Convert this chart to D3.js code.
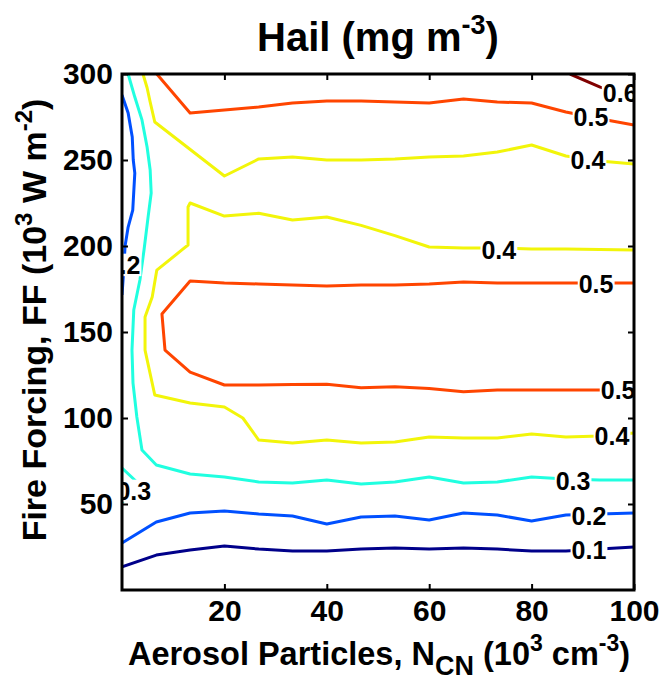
<!DOCTYPE html>
<html>
<head>
<meta charset="utf-8">
<script src="https://cdn.jsdelivr.net/npm/d3@7"></script>
<style>
  body { margin: 0; background: #fff; }
  svg { display: block; }
  text { font-family: "Liberation Sans", Arial, Helvetica, sans-serif; font-weight: bold; fill: #000; }
</style>
</head>
<body>
<svg id="chart" width="663" height="684"></svg>
<script>
// ---------------- data ----------------
const levels = [0.1, 0.2, 0.3, 0.4, 0.5, 0.6];
const levelColors = ["#00008a", "#0050ff", "#20ffe0", "#f2f50a", "#ff4500", "#800000"];
const xTicks = [20, 40, 60, 80, 100];
const yTicks = [50, 100, 150, 200, 250, 300];
const xDomain = [0, 100];
const yDomain = [0, 300];

// contour polylines, [N_CN, FF]
const c01 = [[0,13.4],[6.7,20.3],[13.3,23.3],[20,25.6],[26.7,23.8],[33.3,22.7],[40,22.7],[46.7,23.8],[53.3,24.4],[60,23.8],[66.7,24.4],[73.3,23.8],[80,22.7],[86.7,22.7],[93.3,23.8],[100,25]];
const c02bottom = [[0,27.3],[6.7,39.5],[13.3,44.8],[20,45.9],[26.7,44.2],[33.3,43],[40,38.4],[46.7,42.4],[53.3,43],[60,40.7],[66.7,44.8],[73.3,43.6],[80,40.1],[86.7,43.6],[93.3,44.2],[100,44.8]];
const c02left = [[0,287.8],[1.2,277.3],[2.0,263.4],[2.2,250],[2.5,242.4],[2.1,220.9],[1.2,211],[0.6,200],[0.4,189],[0.2,180],[0,171.5]];
const c03main = [[1.2,300],[2.5,286.6],[3.9,273.3],[4.9,257.6],[5.5,244.2],[5.7,230.8],[5.1,216.9],[4.3,197.7],[3.5,180.2],[2.3,162.8],[1.95,139.5],[2.15,120.3],[2.9,100.6],[3.9,81.4],[6.7,72.7],[13.3,67.4],[20,65.7],[26.7,62.8],[33.3,62.2],[40,64],[46.7,61.6],[53.3,62.8],[60,65.7],[66.7,62.2],[73.3,62.8],[80,65.7],[86.7,64.5],[93.3,64],[100,64]];
const c03corner = [[0,70.9],[2.9,62.8],[3.6,57.5],[0,51.2]];
const c04upper = [[4.1,300],[4.9,292],[5.5,283.7],[6.4,272.1],[20,240.7],[26.7,250.6],[33.3,251.7],[40,250],[46.7,250],[53.3,250.6],[60,251.7],[66.7,252.3],[73.3,254.6],[80,258.7],[86.7,252.3],[93.3,249.4],[100,247.7]];
const c04inner = [[100,197.7],[93.3,198],[86.7,198.3],[80,198.3],[73.3,198.8],[66.7,198.8],[60,199.4],[53.3,206],[46.7,212],[40,216.9],[33.3,215.1],[26.7,219],[20,217.4],[13.3,225],[12.9,222.7],[12.9,200.6],[11.7,197.7],[6.8,186],[5.9,170.3],[4.5,158.7],[4.5,139.5],[6.4,113.4],[13.3,108.7],[20,106.4],[23.6,100],[26.7,87.2],[33.3,85.5],[40,87.2],[46.7,85.5],[53.3,86],[60,89],[66.7,88.4],[73.3,88.4],[80,90.7],[86.7,89],[93.3,89.5],[100,91.3]];
const c05upper = [[6.8,300],[13.3,277.3],[20,279.1],[26.7,280.8],[33.3,283.1],[40,284.3],[46.7,284.3],[53.3,283.7],[60,283.1],[66.7,285.5],[73.3,283.7],[80,283.1],[86.7,277.9],[93.3,274],[100,270.3]];
const c05inner = [[100,178.5],[93.3,178.5],[86.7,178.5],[80,178.5],[73.3,178.5],[66.7,179.1],[60,177.9],[53.3,177.3],[46.7,177.3],[40,176.7],[33.3,177.3],[26.7,177.9],[20,178.5],[13.3,179.6],[7.8,160.5],[8.4,139.5],[13.3,126.7],[20,119.2],[26.7,119.2],[33.3,119.5],[40,119.6],[46.7,117.6],[53.3,118.2],[60,117.2],[66.7,115.3],[73.3,116.3],[80,116.3],[86.7,116.3],[93.3,116.3],[100,116.3]];
const c06 = [[87.5,300],[93.4,292.4],[100,286.6]];

const contourLines = [
  {level: 0.1, pts: c01},
  {level: 0.2, pts: c02bottom},
  {level: 0.2, pts: c02left},
  {level: 0.3, pts: c03main},
  {level: 0.3, pts: c03corner},
  {level: 0.4, pts: c04upper},
  {level: 0.4, pts: c04inner},
  {level: 0.5, pts: c05upper},
  {level: 0.5, pts: c05inner},
  {level: 0.6, pts: c06}
];

// contour labels: [level, N_CN, FF]
const labelLevels = [0.6, 0.5, 0.4, 0.4, 0.5, 0.5, 0.4, 0.3, 0.2, 0.1, 0.2, 0.3];
const labelX      = [97.3, 91.6, 91, 73.6, 92.6, 96.9, 95.7, 88.1, 91.2, 91.2, 0.2, 2.3];
const labelY      = [289, 275, 250, 197.7, 178, 116.3, 89.5, 63.4, 43, 23.3, 189, 57.6];

// ---------------- drawing ----------------
const svg = d3.select("#chart");
const box = {l: 122, t: 74, r: 634, b: 590};
const x = d3.scaleLinear().domain(xDomain).range([box.l, box.r]);
const y = d3.scaleLinear().domain(yDomain).range([box.b, box.t]);
const color = d3.scaleOrdinal().domain(levels).range(levelColors);

svg.append("defs").append("clipPath").attr("id", "plotclip")
  .append("rect").attr("x", box.l).attr("y", box.t)
  .attr("width", box.r - box.l).attr("height", box.b - box.t);

const plot = svg.append("g").attr("clip-path", "url(#plotclip)");
const line = d3.line().x(d => x(d[0])).y(d => y(d[1]));

plot.selectAll("path.contour").data(contourLines).join("path")
  .attr("class", "contour")
  .attr("d", d => line(d.pts))
  .attr("fill", "none")
  .attr("stroke", d => color(d.level))
  .attr("stroke-width", 3)
  .attr("stroke-linejoin", "round");

const labFont = 25;
labelLevels.forEach((lv, i) => {
  const g = plot.append("g");
  const cx = x(labelX[i]), cy = y(labelY[i]);
  const t = g.append("text")
    .attr("x", cx).attr("y", cy + 0.358 * labFont)
    .attr("text-anchor", "middle")
    .style("font-size", labFont + "px")
    .text(lv.toFixed(1));
  const bb = t.node().getBBox();
  g.insert("rect", "text")
    .attr("x", bb.x - 1).attr("y", cy - 0.45 * labFont)
    .attr("width", bb.width + 2).attr("height", 0.9 * labFont)
    .attr("fill", "#fff");
});

// axes
const tickFont = "30px";
const gx = svg.append("g").attr("transform", `translate(0,${box.b})`)
  .call(d3.axisBottom(x).tickValues(xTicks).tickSize(-6).tickPadding(10).tickFormat(d3.format("d")));
const gxt = svg.append("g").attr("transform", `translate(0,${box.t})`)
  .call(d3.axisTop(x).tickValues(xTicks).tickSize(-6).tickFormat(""));
const gy = svg.append("g").attr("transform", `translate(${box.l},0)`)
  .call(d3.axisLeft(y).tickValues(yTicks).tickSize(-6).tickPadding(9).tickFormat(d3.format("d")));
const gyr = svg.append("g").attr("transform", `translate(${box.r},0)`)
  .call(d3.axisRight(y).tickValues(yTicks).tickSize(-6).tickFormat(""));
[gx, gxt, gy, gyr].forEach(g => {
  g.select(".domain").remove();
  g.selectAll(".tick line").attr("stroke", "#000").attr("stroke-width", 2);
  g.selectAll(".tick text").style("font-size", tickFont).style("font-family", null).attr("fill", "#000");
});

svg.append("rect")
  .attr("x", box.l).attr("y", box.t)
  .attr("width", box.r - box.l).attr("height", box.b - box.t)
  .attr("fill", "none").attr("stroke", "#000").attr("stroke-width", 3);

// title
const title = svg.append("text").attr("x", 378).attr("y", 51)
  .attr("text-anchor", "middle").style("font-size", "40px");
title.append("tspan").text("Hail (mg m");
title.append("tspan").attr("dy", -17).style("font-size", "27px").text("-3");
title.append("tspan").attr("dy", 17).text(")");

// x label
const xl = svg.append("text").attr("x", 379).attr("y", 665)
  .attr("text-anchor", "middle").style("font-size", "32.5px");
xl.append("tspan").text("Aerosol Particles, N");
xl.append("tspan").attr("dy", 10).style("font-size", "27px").text("CN");
xl.append("tspan").attr("dy", -10).text(" (10");
xl.append("tspan").attr("dy", -14).style("font-size", "23px").text("3");
xl.append("tspan").attr("dy", 14).text(" cm");
xl.append("tspan").attr("dy", -14).style("font-size", "23px").text("-3");
xl.append("tspan").attr("dy", 14).text(")");

// y label
const yl = svg.append("text")
  .attr("transform", "translate(46,320) rotate(-90)")
  .attr("text-anchor", "middle").style("font-size", "34px");
yl.append("tspan").text("Fire Forcing, FF (10");
yl.append("tspan").attr("dy", -14).style("font-size", "24px").text("3");
yl.append("tspan").attr("dy", 14).text(" W m");
yl.append("tspan").attr("dy", -14).style("font-size", "24px").text("-2");
yl.append("tspan").attr("dy", 14).text(")");
</script>
</body>
</html>
